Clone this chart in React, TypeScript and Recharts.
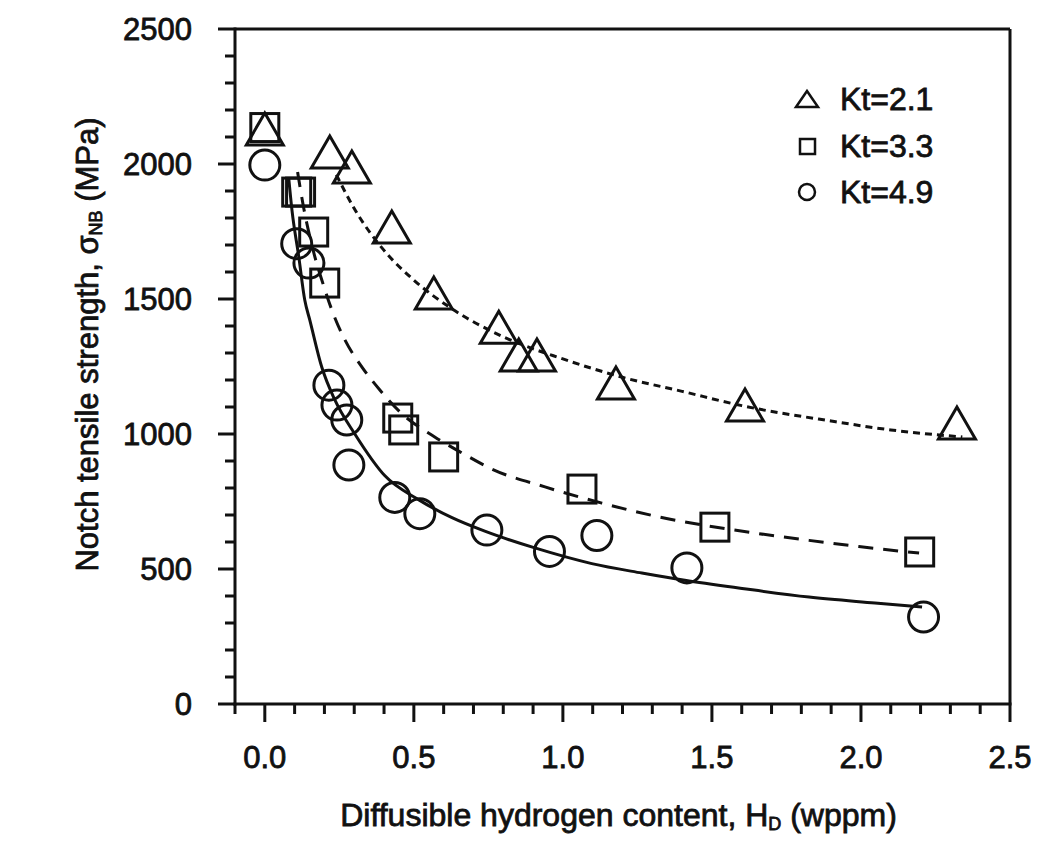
import React from 'react';
import { ComposedChart, XAxis, YAxis, Line, Scatter, ReferenceLine, Legend } from 'recharts';

const INK = '#111';
const FONT = '"Liberation Sans", Arial, Helvetica, sans-serif';

// measured points, x = H_D (wppm), y = sigma_NB (MPa)
const kt21 = [
  { x: 0, y: 2130 }, { x: 0.218, y: 2044 }, { x: 0.292, y: 1989 }, { x: 0.426, y: 1767 },
  { x: 0.567, y: 1522 }, { x: 0.785, y: 1395 }, { x: 0.852, y: 1293 }, { x: 0.913, y: 1293 },
  { x: 1.178, y: 1189 }, { x: 1.611, y: 1107 }, { x: 2.322, y: 1041 },
];
const kt33 = [
  { x: 0, y: 2135 }, { x: 0.107, y: 1896 }, { x: 0.12, y: 1896 }, { x: 0.164, y: 1748 },
  { x: 0.201, y: 1559 }, { x: 0.446, y: 1059 }, { x: 0.466, y: 1015 }, { x: 0.6, y: 915 },
  { x: 1.064, y: 796 }, { x: 1.51, y: 655 }, { x: 2.197, y: 563 },
];
const kt49 = [
  { x: 0, y: 1996 }, { x: 0.107, y: 1705 }, { x: 0.148, y: 1633 }, { x: 0.215, y: 1181 },
  { x: 0.242, y: 1107 }, { x: 0.275, y: 1052 }, { x: 0.282, y: 885 }, { x: 0.436, y: 765 },
  { x: 0.52, y: 705 }, { x: 0.745, y: 644 }, { x: 0.955, y: 565 }, { x: 1.114, y: 624 },
  { x: 1.416, y: 504 }, { x: 2.21, y: 322 },
];

// fitted curves
const fitKt21 = [
  { x: 0.24, y: 1960 }, { x: 0.3, y: 1835 }, { x: 0.4, y: 1680 }, { x: 0.5, y: 1570 },
  { x: 0.63, y: 1462 }, { x: 0.8, y: 1360 }, { x: 1.0, y: 1278 }, { x: 1.2, y: 1210 },
  { x: 1.4, y: 1158 }, { x: 1.6, y: 1105 }, { x: 1.9, y: 1048 }, { x: 2.1, y: 1015 },
  { x: 2.34, y: 989 },
];
const fitKt33 = [
  { x: 0.11, y: 1970 }, { x: 0.13, y: 1840 }, { x: 0.16, y: 1690 }, { x: 0.2, y: 1540 },
  { x: 0.225, y: 1459 }, { x: 0.268, y: 1350 }, { x: 0.326, y: 1248 }, { x: 0.386, y: 1163 },
  { x: 0.46, y: 1075 }, { x: 0.57, y: 989 }, { x: 0.661, y: 930 }, { x: 0.762, y: 870 },
  { x: 0.94, y: 804 }, { x: 1.131, y: 744 }, { x: 1.322, y: 693 }, { x: 1.49, y: 659 },
  { x: 1.644, y: 633 }, { x: 1.826, y: 606 }, { x: 1.993, y: 583 }, { x: 2.195, y: 559 },
];
const fitKt49 = [
  { x: 0.08, y: 1950 }, { x: 0.091, y: 1830 }, { x: 0.114, y: 1656 }, { x: 0.134, y: 1496 },
  { x: 0.151, y: 1422 }, { x: 0.191, y: 1248 }, { x: 0.235, y: 1126 }, { x: 0.302, y: 1000 },
  { x: 0.403, y: 845 }, { x: 0.517, y: 756 }, { x: 0.628, y: 690 }, { x: 0.738, y: 640 },
  { x: 0.906, y: 578 }, { x: 1.097, y: 520 }, { x: 1.265, y: 485 }, { x: 1.409, y: 458 },
  { x: 1.601, y: 428 }, { x: 1.826, y: 396 }, { x: 2.047, y: 374 }, { x: 2.205, y: 359 },
];

const seriesNames = ['Kt=2.1', 'Kt=3.3', 'Kt=4.9'];

const xTicks = [
  -0.1, 0, 0.1, 0.2, 0.3, 0.4, 0.5, 0.6, 0.7, 0.8, 0.9, 1.0, 1.1, 1.2, 1.3,
  1.4, 1.5, 1.6, 1.7, 1.8, 1.9, 2.0, 2.1, 2.2, 2.3, 2.4, 2.5,
];
const yTicks = [
  0, 100, 200, 300, 400, 500, 600, 700, 800, 900, 1000, 1100, 1200, 1300,
  1400, 1500, 1600, 1700, 1800, 1900, 2000, 2100, 2200, 2300, 2400, 2500,
];

// scanned text looks heavier than plain regular weight
const heavy = { stroke: INK, strokeWidth: 0.8 };

const Triangle = (props: any) => {
  const { cx, cy } = props;
  const w = 37, h = 32;
  return (
    <polygon
      points={`${cx},${cy - h / 2} ${cx + w / 2},${cy + h / 2} ${cx - w / 2},${cy + h / 2}`}
      fill="none" stroke={INK} strokeWidth={3}
    />
  );
};

const Square = (props: any) => {
  const { cx, cy } = props;
  const s = 28;
  return <rect x={cx - s / 2} y={cy - s / 2} width={s} height={s} fill="none" stroke={INK} strokeWidth={3} />;
};

const Circle = (props: any) => {
  const { cx, cy } = props;
  return <circle cx={cx} cy={cy} r={15} fill="none" stroke={INK} strokeWidth={3} />;
};

const YTick = (props: any) => {
  const { x, y, payload } = props;
  const v = payload.value;
  const major = v % 500 === 0;
  return (
    <g>
      <line x1={x - (major ? 17 : 10)} x2={x} y1={y} y2={y} stroke={INK} strokeWidth={3} />
      {major && (
        <text x={x - 43} y={y} textAnchor="end" dominantBaseline="central"
          fontFamily={FONT} fontSize={31} fill={INK} {...heavy}>{v}</text>
      )}
    </g>
  );
};

const XTick = (props: any) => {
  const { x, y, payload } = props;
  const v = payload.value;
  const major = v >= 0 && Math.abs(v * 2 - Math.round(v * 2)) < 1e-6;
  return (
    <g>
      <line x1={x} x2={x} y1={y} y2={y + (major ? 18 : 10)} stroke={INK} strokeWidth={3} />
      {major && (
        <text x={x} y={y + 53} textAnchor="middle" dominantBaseline="central"
          fontFamily={FONT} fontSize={31} fill={INK} {...heavy}>{v.toFixed(1)}</text>
      )}
    </g>
  );
};

const XLabel = (props: any) => {
  const { viewBox } = props;
  const cx = viewBox.x + viewBox.width / 2 - 4;
  const cy = viewBox.y + 111;
  return (
    <text x={cx} y={cy} textAnchor="middle" dominantBaseline="central"
      fontFamily={FONT} fontSize={32} fill={INK} {...heavy}>
      Diffusible hydrogen content, H<tspan dy={9} fontSize={18}>D</tspan>
      <tspan dy={-9}>{' (wppm)'}</tspan>
    </text>
  );
};

const YLabel = (props: any) => {
  const { viewBox } = props;
  const cx = 79;
  const cy = viewBox.y + viewBox.height / 2 - 22;
  return (
    <text x={cx} y={cy} transform={`rotate(-90, ${cx}, ${cy})`} textAnchor="middle"
      dominantBaseline="central" fontFamily={FONT} fontSize={31} fill={INK} {...heavy}>
      Notch tensile strength, σ<tspan dy={9} fontSize={18}>NB</tspan>
      <tspan dy={-9}>{' (MPa)'}</tspan>
    </text>
  );
};

const legendIcon = (i: number) => {
  if (i === 0) return <polygon points="15,7 26,23 4,23" fill="none" stroke={INK} strokeWidth={2.5} />;
  if (i === 1) return <rect x={8} y={8} width={15} height={15} fill="none" stroke={INK} strokeWidth={2.5} />;
  return <circle cx={15} cy={15} r={8} fill="none" stroke={INK} strokeWidth={2.5} />;
};

const renderLegend = () => (
  <div style={{ fontFamily: FONT, fontSize: 32, color: INK, WebkitTextStroke: '0.8px #111' }}>
    {seriesNames.map((name, i) => (
      <div key={name} style={{ display: 'flex', alignItems: 'center', height: 46.5 }}>
        <svg width={30} height={30}>{legendIcon(i)}</svg>
        <span style={{ marginLeft: 18, lineHeight: 1 }}>{name}</span>
      </div>
    ))}
  </div>
);

export default function App() {
  return (
    <div style={{ width: 1034, height: 837, background: '#fff' }}>
      <ComposedChart width={1034} height={837} margin={{ top: 21, right: 32, bottom: 0, left: 0 }}>
        <XAxis
          dataKey="x" type="number" domain={[-0.1, 2.5]} ticks={xTicks} interval={0}
          allowDataOverflow height={141} tick={<XTick />} tickLine={false} tickSize={0} tickMargin={0}
          axisLine={{ stroke: INK, strokeWidth: 3, strokeLinecap: 'square' }}
          label={{ content: <XLabel /> }}
        />
        <YAxis
          type="number" domain={[0, 2500]} ticks={yTicks} interval={0} allowDataOverflow
          width={227} tick={<YTick />} tickLine={false} tickSize={0} tickMargin={0}
          axisLine={{ stroke: INK, strokeWidth: 3, strokeLinecap: 'square' }}
          label={{ content: <YLabel /> }}
        />
        <ReferenceLine y={2500} stroke={INK} strokeWidth={3} />
        <ReferenceLine x={2.5} stroke={INK} strokeWidth={3} />
        <Line data={fitKt21} dataKey="y" type="monotone" stroke={INK} strokeWidth={3}
          strokeDasharray="7 5" dot={false} activeDot={false} legendType="none" isAnimationActive={false} />
        <Line data={fitKt33} dataKey="y" type="monotone" stroke={INK} strokeWidth={3}
          strokeDasharray="15 10" dot={false} activeDot={false} legendType="none" isAnimationActive={false} />
        <Line data={fitKt49} dataKey="y" type="monotone" stroke={INK} strokeWidth={3}
          dot={false} activeDot={false} legendType="none" isAnimationActive={false} />
        <Scatter name={seriesNames[0]} data={kt21} dataKey="y" shape={<Triangle />} isAnimationActive={false} />
        <Scatter name={seriesNames[1]} data={kt33} dataKey="y" shape={<Square />} isAnimationActive={false} />
        <Scatter name={seriesNames[2]} data={kt49} dataKey="y" shape={<Circle />} isAnimationActive={false} />
        <Legend
          content={renderLegend} layout="horizontal" verticalAlign="middle" align="center"
          wrapperStyle={{ position: 'absolute', left: 784, top: 68, width: 220 }}
        />
      </ComposedChart>
    </div>
  );
}
